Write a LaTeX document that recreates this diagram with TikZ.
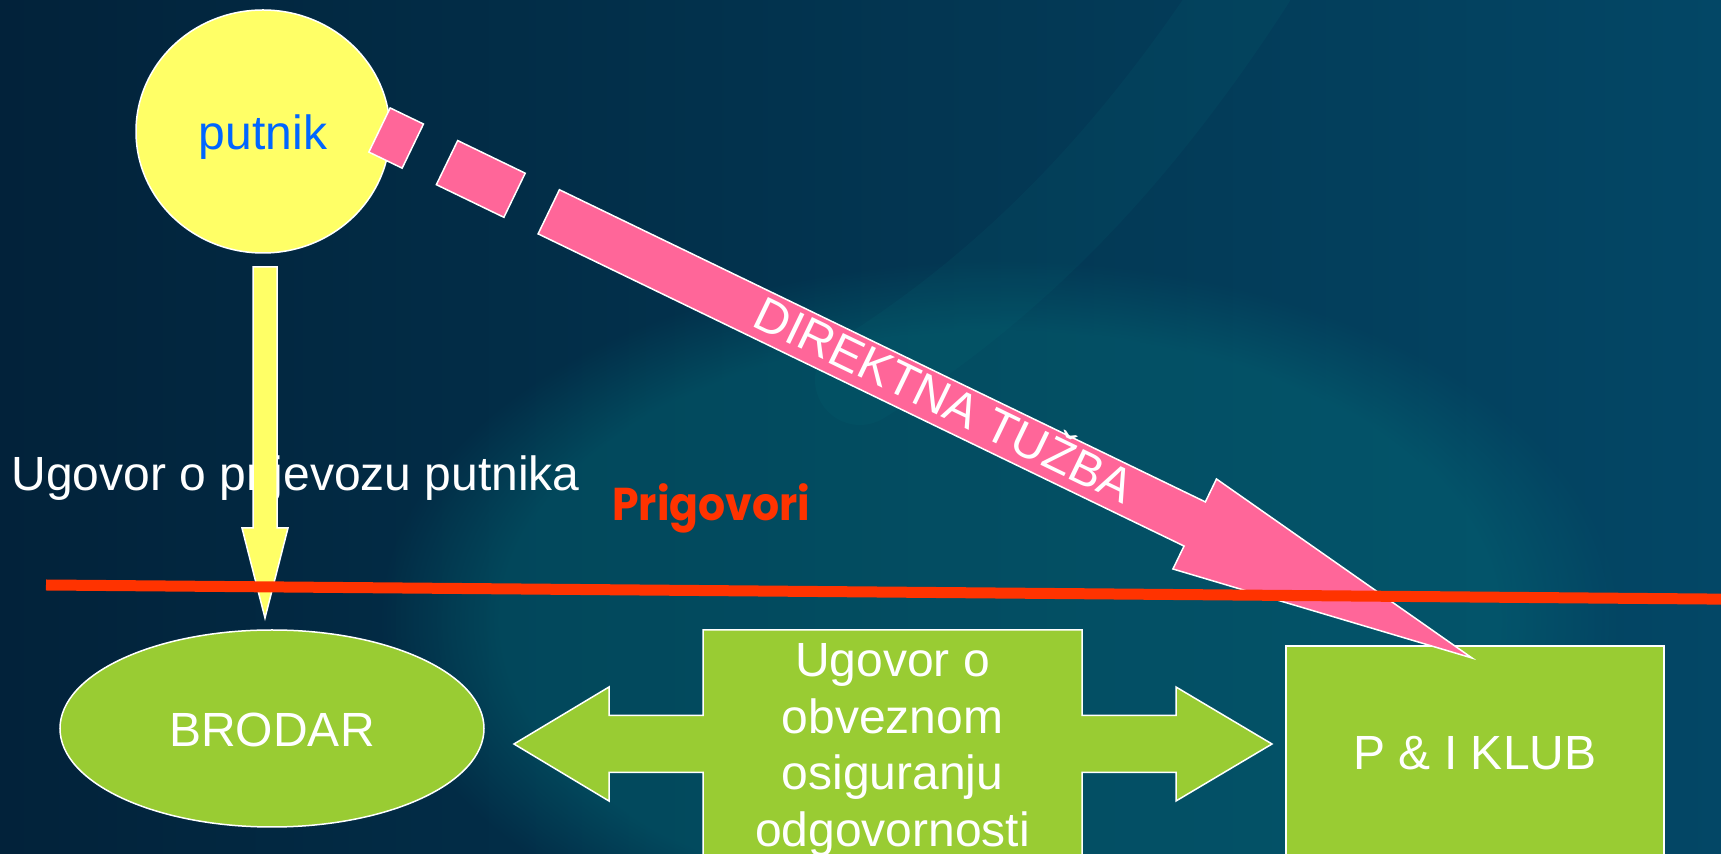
\documentclass[tikz,border=0pt]{standalone}
\usepackage{fontspec}
\setmainfont{Liberation Sans}
\newfontfamily\poppins{Poppins}
\usetikzlibrary{calc,shapes.geometric,fadings}

\definecolor{bgleft}{HTML}{02223A}
\definecolor{bgmid}{HTML}{033F5E}
\definecolor{bgright}{HTML}{034766}
\definecolor{bgglow}{HTML}{04707A}
\definecolor{lemon}{HTML}{FFFF66}
\definecolor{rose}{HTML}{FF6699}
\definecolor{leaf}{HTML}{99CC33}
\definecolor{flame}{HTML}{FF3300}
\definecolor{sky}{HTML}{0066FF}

\pgfdeclarelayer{background}
\pgfsetlayers{background,main}

% block arrow: style, tail, tip, shaft half width, head half width, head length
\newcommand{\arrowbody}[6]{%
  \filldraw[#1] ($(#2)!#4!90:(#3)$) -- ($(#3)!#6!(#2)!#4!-90:(#2)$)
    -- ($(#3)!#6!(#2)!#5!-90:(#2)$) -- (#3)
    -- ($(#3)!#6!(#2)!#5!90:(#2)$) -- ($(#3)!#6!(#2)!#4!90:(#2)$)
    -- ($(#2)!#4!-90:(#3)$) -- cycle;}
% stripe of the tail: style, tail, tip, from, to, half width
\newcommand{\arrowstripe}[6]{%
  \filldraw[#1] ($(#2)!#4!(#3)!#6!90:(#3)$) -- ($(#2)!#5!(#3)!#6!90:(#3)$)
    -- ($(#2)!#5!(#3)!#6!-90:(#3)$) -- ($(#2)!#4!(#3)!#6!-90:(#3)$) -- cycle;}

\begin{document}
\begin{tikzpicture}[x=0.5pt,y=-0.5pt,
  outline/.style={draw=white,line width=0.75pt,outer sep=0pt},
  word/.style={font=\fontsize{24}{28.25}\selectfont,text=white,inner sep=0pt},
  bubble/.style={ellipse,outline,inner sep=0pt,text height=18.5pt,text depth=0pt},
  plate/.style={rectangle,inner sep=0pt,outer sep=0pt},
  yellowshape/.style={fill=lemon,outline},
  pinkshape/.style={fill=rose,outline},
  greenshape/.style={fill=leaf,outline}]
  \useasboundingbox (0,0) rectangle (1721,854);

  \node[bubble,fill=lemon,minimum width=127pt,minimum height=121.5pt,
    font=\fontsize{24}{28}\selectfont,text=sky] (putnik) at (263,131.5) {putnik};
  \node[bubble,fill=leaf,minimum width=212pt,minimum height=98.5pt,word,
    text height=18.5pt] (brodar) at (272,728.5) {BRODAR};
  \node[plate,fill=leaf,outline,minimum width=189pt,minimum height=124pt,word,
    text height=6pt,text depth=6pt] (klub) at (1475,770) {P \& I KLUB};
  \node[plate,minimum width=189.5pt,minimum height=120pt,word,align=center]
    (osig) at (892.5,750) {Ugovor o\\obveznom\\osiguranju\\odgovornosti};

  \node[word,anchor=base west] (prijevoz) at (11,491) {Ugovor o prijevozu putnika};
  \node[font=\poppins\bfseries\fontsize{23}{23}\selectfont,text=flame,inner sep=0pt,
    anchor=base west] (prigovori) at (612,521) {\scalebox{0.925}[1]{Prigovori}};

  \coordinate (ytail) at ($(putnik.south)+(2,14)$);
  \coordinate (ytip) at ($(brodar.north)+(-7,-12)$);
  \coordinate (ptail) at ($(putnik.east)+(-10.5,-1.5)$);
  \coordinate (ptip) at ($(klub.north west)+(186,12)$);
  \coordinate (pbody) at ($(ptail)!94pt!(ptip)$);
  \coordinate (ltip) at ($(brodar.east)+(30,15.5)$);
  \coordinate (rtip) at ($(klub.west)+(-14,-26)$);
  \coordinate (l1) at ($(ltip)+(95,-28.5)$);
  \coordinate (l2) at ($(ltip)+(95,28.5)$);
  \coordinate (r1) at ($(rtip)+(-96,-28.5)$);
  \coordinate (r2) at ($(rtip)+(-96,28.5)$);

  \begin{pgfonlayer}{background}
    \shade[left color=bgleft,middle color=bgmid,right color=bgright]
      (0,0) rectangle (1721,854);
    \fill[bgglow,opacity=0.4,path fading=circle with fuzzy edge 20 percent]
      (1000,620) ellipse (620 and 360);
    \draw[bgglow,opacity=0.12,line width=45pt,line cap=round]
      (1250,-20) .. controls (1140,150) and (1020,280) .. (860,380);
    % double arrow together with the box
    \draw[greenshape] (osig.north west) -- (osig.north east) -- (osig.east |- r1)
      -- (r1) -- ($(rtip)+(-96,-57)$) -- (rtip) -- ($(rtip)+(-96,57)$) -- (r2)
      -- (osig.east |- r2) -- (osig.south east) -- (osig.south west)
      -- (osig.west |- l2) -- (l2) -- ($(ltip)+(95,57)$) -- (ltip)
      -- ($(ltip)+(95,-57)$) -- (l1) -- (osig.west |- l1) -- cycle;
  \end{pgfonlayer}

  % putnik -> brodar
  \arrowbody{yellowshape}{ytail}{ytip}{6pt}{11.5pt}{45pt}

  % putnik -> klub
  \arrowstripe{pinkshape}{ptail}{ptip}{0pt}{18.5pt}{12.25pt}
  \arrowstripe{pinkshape}{ptail}{ptip}{37.5pt}{75pt}{12.25pt}
  \arrowbody{pinkshape}{pbody}{ptip}{12.25pt}{25pt}{154pt}
  \node[word,rotate=-25.79,anchor=base] (tuzba)
    at ($(ptail)!313pt!(ptip)!7pt!-90:(ptip)$) {DIREKTNA TUŽBA};

  \draw[flame,line width=5.5pt] (46,585) -- (1730,599.2);
\end{tikzpicture}
\end{document}
